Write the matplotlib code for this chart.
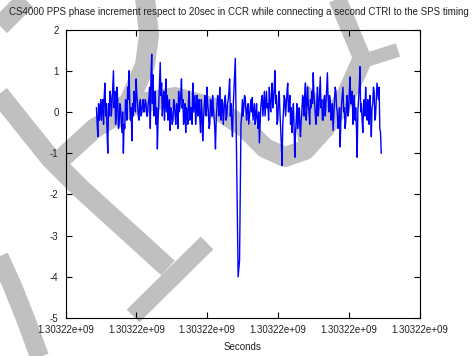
import numpy as np
import matplotlib
matplotlib.use("Agg")
import matplotlib.pyplot as plt
import matplotlib.transforms as mtransforms
from matplotlib.path import Path
from matplotlib.patches import PathPatch, Polygon

# -------- dados --------
t_inicio = 1303218437  # primeiro instante (s)
passo = 10  # intervalo entre amostras (s)
fase = [
    0.1, -0.3, -0.6, 0.2, -0.2, 0.0, 0.3, -0.2, 0.1, 0.3, -0.3, 0.4, 0.7, -0.1, 0.2, -0.5, -1.0, 0.2, -0.1, 0.5,
    0.4, -0.1, 0.2, 0.6, 1.0, 0.1, 0.5, -0.3, -0.1, 0.6, 0.3, -0.4, -0.3, 0.2, 0.1, -0.2, -0.5, 0.0, -1.0, -0.3,
    -0.4, 0.3, 0.2, -0.2, 0.6, 0.3, 1.0, 0.2, -0.2, 0.1, -0.7, 0.2, -0.1, 0.5, 0.4, 0.0, 0.8, 0.4, 0.2, -0.1,
    -0.2, 0.2, 0.3, -0.1, 0.0, 0.2, 0.3, 0.0, 0.1, 0.3, 0.2, -0.1, -0.1, 0.2, 0.3, 0.6, -0.4, 0.9, 1.4, 0.2,
    0.9, -0.1, 0.3, 0.5, -0.3, 0.1, -0.9, -0.2, 0.2, 0.7, 1.2, 0.4, 0.7, -0.1, 0.3, 0.5, -0.2, 0.2, 0.8, 0.0,
    0.4, -0.2, 0.1, 0.3, -0.45, 0.1, 0.0, -0.3, -0.2, 0.3, 0.2, -0.1, -0.3, 0.2, 0.1, -0.4, 0.5, 0.0, 0.2, 0.4,
    0.8, 0.1, 0.3, -0.3, -0.1, 0.2, -0.5, 0.1, 0.0, -0.3, 0.3, 0.5, -0.2, 0.1, 0.1, -0.3, 0.7, 0.0, 0.2, 0.4,
    -0.3, 0.1, 0.4, -0.1, 0.0, 0.3, -0.2, -0.5, 0.3, 0.0, -0.7, -0.2, 0.1, 0.4, 0.2, -0.1, 0.6, 0.2, 0.0, -0.4,
    -0.3, 0.3, 0.2, -0.1, 0.4, 0.1, -0.1, -0.4, -0.9, -0.2, 0.1, 0.4, 0.3, -0.1, 0.6, 0.1, -0.2, 0.3, 0.2, -0.3,
    0.0, 0.3, 0.4, -0.2, -0.1, 0.2, 0.3, 0.5, 0.8, -0.1, 0.2, -0.3, -0.6, 0.1, 0.5, 0.9, 1.3, -0.05, -1.4, -2.7,
    -4.0, -3.8, -3.6, -1.9, -0.3, -0.1, 0.3, -0.1, 0.1, 0.4, 0.35, 0.0, -0.2, 0.1, 0.2, -0.3, -0.1, 0.1, 0.3, 0.0,
    0.35, -0.2, 0.0, 0.2, -0.3, -0.1, 0.2, -0.2, -0.4, 0.0, -0.75, -0.3, 0.1, 0.3, 0.4, -0.1, 0.2, 0.5, -0.1, 0.2,
    0.5, 0.1, 0.2, -0.2, 0.6, 0.2, 0.0, 0.4, 0.7, 0.1, 0.3, 0.6, 1.0, 0.2, 0.4, -0.3, -0.2, 0.3, 0.5, 0.0,
    -0.4, -0.8, -1.3, -0.3, 0.0, 0.4, 0.3, -0.1, 0.2, 0.5, 0.7, 0.0, 0.1, 0.4, -0.3, 0.1, -0.5, -0.1, 0.2, -0.4,
    -1.1, -0.5, -0.2, 0.2, -0.4, -0.1, 0.1, -0.3, -0.6, -0.2, 0.0, 0.4, 0.3, -0.1, 0.4, 0.7, -0.2, 0.1, 0.6, 0.2,
    0.0, -0.3, 0.3, 0.1, 0.5, 0.2, 0.95, 0.4, 0.2, -0.1, -0.3, 0.2, 0.6, -0.1, 0.1, 0.5, 0.85, 0.1, 0.3, -0.2,
    -0.2, 0.3, 0.4, -0.1, 0.2, 0.6, 0.95, 0.3, 0.0, 0.4, 0.3, -0.2, -0.1, 0.2, -0.45, -0.1, 0.2, 0.6, 0.5, 0.1,
    0.0, -0.4, -0.3, 0.1, -0.85, -0.2, 0.2, 0.4, 0.6, 0.0, 0.1, -0.4, -0.2, 0.2, 0.4, -0.1, 0.0, 0.5, 0.85, 0.2,
    0.2, 0.5, -0.3, 0.0, 0.4, -0.2, 0.1, -0.4, -1.1, 0.0, 0.3, 0.6, 1.1, 0.0, 0.2, -0.2, -0.5, 0.1, 0.3, -0.1,
    0.6, 0.1, -0.2, 0.3, 0.1, -0.3, 0.4, 0.0, -0.6, 0.1, 0.2, 0.6, 0.5, -0.2, -0.1, 0.3, 0.7, 0.5, 0.3, 0.6,
    -0.4, -0.5, -1.0,
]
segundos = t_inicio + passo * np.arange(len(fase))

x_ticks = [1303218000, 1303219000, 1303220000, 1303221000, 1303222000, 1303223000]
y_ticks = [-5, -4, -3, -2, -1, 0, 1, 2]

titulo = "CS4000 PPS phase increment respect to 20sec in CCR while connecting a second CTRI to the SPS timing"

# -------- estilo --------
plt.rcParams["font.family"] = ["Liberation Sans", "DejaVu Sans"]
plt.rcParams["axes.unicode_minus"] = False

W, H = 477, 356
fig = plt.figure(figsize=(W / 100, H / 100), dpi=100)

# marca d'água cinza (coordenadas em pixels, y para baixo)
px = mtransforms.Affine2D().scale(1 / W, -1 / H).translate(0, 1) + fig.transFigure
cinza = "#c0c0c0"
tracos = [
    ([(0, 26), (26, 0)], 20),
    ([(-2, 93), (50, 158), (80, 188), (168, 268)], 20),
    ([(133, 316), (207, 243)], 18),
    ([(-4, 250), (12, 285), (26, 320), (40, 358)], 19),
    ([(60, 160), (95, 128), (135, 104), (175, 97), (215, 108), (245, 128),
      (265, 148), (285, 157), (305, 150), (325, 128), (345, 98), (362, 60)], 20),
    ([(145, -2), (149, 35), (145, 65), (130, 100), (112, 122)], 20),
    ([(337, -2), (362, 58)], 18),
    ([(360, 62), (398, 50)], 14),
]
for pts, larg in tracos:
    caminho = Path(pts)
    fig.add_artist(PathPatch(caminho, fill=False, edgecolor=cinza, lw=larg * 0.72,
                             transform=px, zorder=-5, joinstyle="round", capstyle="butt"))
fig.add_artist(Polygon([(307, 84), (330, 108), (338, 125), (300, 152), (296, 128)],
                       closed=True, facecolor=cinza, edgecolor="none", transform=px, zorder=-5))

ax = fig.add_axes([65.5 / W, 1 - 318 / H, (419.7 - 65.5) / W, (318 - 29.5) / H])
ax.patch.set_alpha(0)

# -------- curva --------
ax.plot(segundos, fase, color="#0000ff", lw=1.0)

ax.set_xlim(x_ticks[0], x_ticks[-1])
ax.set_ylim(y_ticks[0], y_ticks[-1])
ax.set_xticks(x_ticks)
ax.set_yticks(y_ticks)
ax.set_xticklabels([f"{v:g}" for v in x_ticks])
ax.set_yticklabels([str(v) for v in y_ticks])
ax.tick_params(direction="in", length=4.3, width=0.8, top=True, right=True,
               labelsize=7, pad=5, colors="black", labelcolor="#222222")
for lado in ax.spines.values():
    lado.set_linewidth(0.8)

ax.set_xlabel("Seconds", fontsize=7, color="#222222", labelpad=5)
fig.text(0.5, 1 - 12 / H, titulo, ha="center", va="center", fontsize=7, color="#222222")

fig.savefig("out.png", dpi=100)
